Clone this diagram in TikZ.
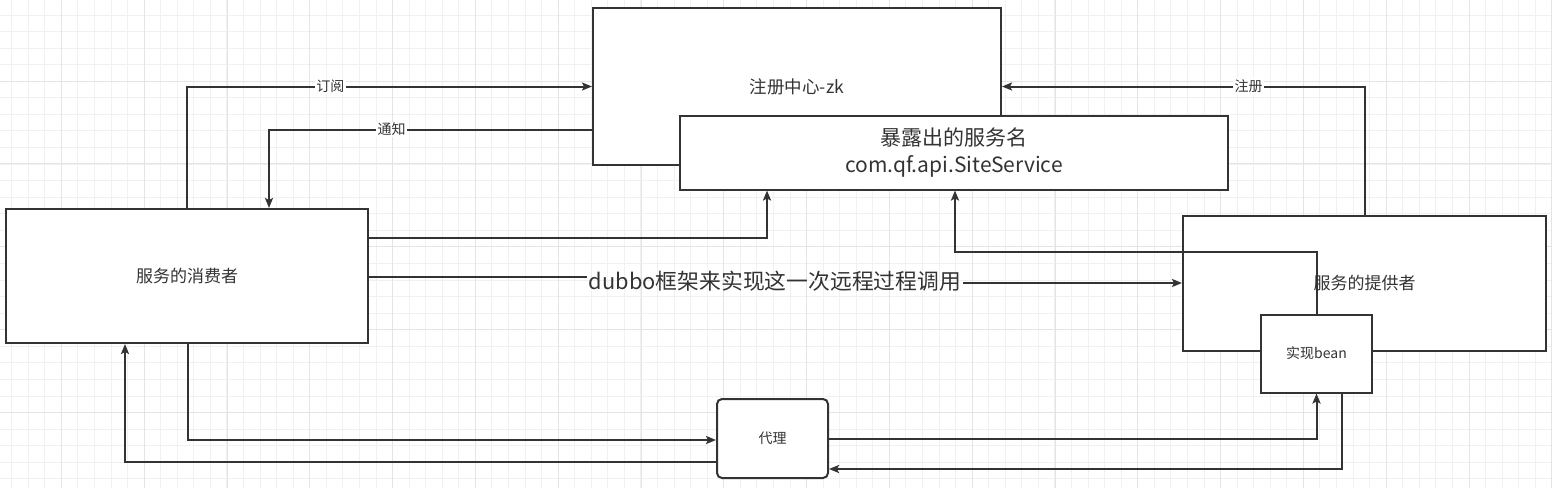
\documentclass[tikz,border=0pt]{standalone}
\usepackage{fontspec}
\setmainfont{Noto Sans CJK SC}
\usepackage{xcolor}
\definecolor{ink}{HTML}{333333}
\definecolor{gridminor}{HTML}{F1F1F1}
\definecolor{gridmajor}{HTML}{E4E4E4}
\usetikzlibrary{arrows.meta}

\begin{document}
\begin{tikzpicture}[x=1pt, y=-1pt,
  box/.style={draw=ink, line width=2pt, fill=white, text=ink, inner sep=0pt},
  link/.style={draw=ink, line width=2pt, -{Stealth[length=10pt,width=8pt,inset=2pt]}},
  tag/.style={fill=white, text=ink, font=\fontsize{14}{16}\selectfont, inner sep=1.5pt}]
\useasboundingbox (0,0) rectangle (1552,488);
\fill [white] (0,0) rectangle (1552,488);
% background grid
\foreach \i in {0,...,93}
  \draw [gridminor, line width=1pt] ({11.7+16.56*\i},0) -- ++(0,488);
\foreach \j in {-1,...,28}
  \draw [gridminor, line width=1pt] (0,{15+16.57*\j}) -- ++(1552,0);
\foreach \i in {-1,...,18}
  \draw [gridmajor, line width=1pt] ({61.4+82.8*\i},0) -- ++(0,488);
\foreach \j in {-1,...,5}
  \draw [gridmajor, line width=1pt] (0,{81+82.85*\j}) -- ++(1552,0);

% boxes
\node [box, minimum width=408pt, minimum height=157pt, font=\fontsize{17.5}{20}\selectfont] (reg) at (797,86.5) {注册中心-zk};
\node [box, minimum width=548pt, minimum height=74pt, align=center, font=\fontsize{21}{27}\selectfont] (expo) at (954,152.5) {暴露出的服务名\\com.qf.api.SiteService};
\node [box, minimum width=362pt, minimum height=134pt, font=\fontsize{17}{20}\selectfont] (cons) at (187,276) {服务的消费者};
\node [box, minimum width=363pt, minimum height=135pt, font=\fontsize{17}{20}\selectfont] (prov) at (1364.5,283) {服务的提供者};
\node [box, minimum width=111pt, minimum height=79pt, rounded corners=5pt, font=\fontsize{14}{16}\selectfont] (proxy) at (772.5,438.5) {代理};

% registry links
\draw [link] (cons.north) |- node [tag, pos=0.677] {订阅} (reg.west);
\draw [link] ([yshift=-43pt]reg.west) -| node [tag, pos=0.31] {通知} ([xshift=82pt]cons.north);
\draw [link] (prov.north) |- node [tag, pos=0.66] {注册} (reg.east);

% lookup of the exposed name
\draw [link] ([yshift=38pt]cons.east) -| ([xshift=-187pt]expo.south);
\draw [link] (prov.center) ++(-48,31) coordinate (up) -- ++(0,-62) -| ([xshift=1pt]expo.south);
\node [box, minimum width=111pt, minimum height=78pt, font=\fontsize{14}{16}\selectfont] (bean) at (1316.5,353.5) {实现bean};
\draw [draw=ink, line width=2pt] (bean.north) -- (up);

% remote call
\node [text=ink, font=\fontsize{21.8}{24}\selectfont, inner sep=2pt] (dub) at (775,281.5) {dubbo框架来实现这一次远程过程调用};
\draw [draw=ink, line width=2pt] ([yshift=-1pt]cons.east) -- ([yshift=-1pt]cons.east -| dub.west);
\draw [link] (prov.west -| dub.east) -- (prov.west);

% proxy links
\draw [link] ([xshift=1pt]cons.south) |- ([yshift=-1.5pt]proxy.west);
\draw [link] ([yshift=-23pt]proxy.west) -| ([xshift=-62pt]cons.south);
\draw [link] ([yshift=-0.5pt]proxy.east) -| (bean.south);
\draw [link] ([xshift=25.5pt]bean.south) |- ([yshift=-30.5pt]proxy.east);
\end{tikzpicture}
\end{document}
